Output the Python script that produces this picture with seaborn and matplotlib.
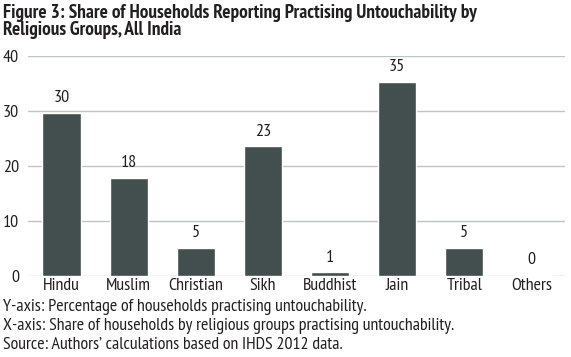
import matplotlib
matplotlib.use("Agg")
import matplotlib.pyplot as plt
import seaborn as sns
import pandas as pd

groups = ["Hindu", "Muslim", "Christian", "Sikh", "Buddhist", "Jain", "Tribal", "Others"]
shares = [29.6, 17.8, 5.1, 23.5, 0.6, 35.3, 5.0, 0.2]
bar_labels = ["30", "18", "5", "23", "1", "35", "5", "0"]
yticks = [0, 10, 20, 30, 40]

title_lines = [
    "Figure 3: Share of Households Reporting Practising Untouchability by",
    "Religious Groups, All India",
]
notes = [
    "Y-axis: Percentage of households practising untouchability.",
    "X-axis: Share of households by religious groups practising untouchability.",
    "Source: Authors\u2019 calculations based on IHDS 2012 data.",
]

sns.set_style("white")
plt.rcParams["font.family"] = ["PT Sans Narrow", "Archivo Narrow", "DejaVu Sans"]
ink = "#231f20"

df = pd.DataFrame({"group": groups, "share": shares})

W, H = 571, 357
fig = plt.figure(figsize=(W / 100, H / 100), dpi=100)
ax = fig.add_axes([28 / W, (H - 275.7) / H, 537 / W, 220 / H])
sns.barplot(data=df, x="group", y="share", color="#434e4e", saturation=1, width=0.57, ax=ax)

ax.set_ylim(0, 40)
ax.set_xlim(-0.5, 7.5)
ax.set_yticks(yticks)
ax.yaxis.grid(True, color="#bcc6c4", linewidth=1.0)
ax.set_axisbelow(True)
for s in ax.spines.values():
    s.set_visible(False)
ax.set_xlabel("")
ax.set_ylabel("")
ax.tick_params(axis="both", length=0, labelsize=13, colors=ink)
ax.tick_params(axis="y", pad=6.5)
ax.tick_params(axis="x", pad=2)

for p, lab in zip(ax.patches, bar_labels):
    ax.annotate(lab, (p.get_x() + p.get_width() / 2, p.get_height()),
                xytext=(0, 10.6), textcoords="offset points",
                ha="center", va="center", fontsize=13, color=ink)

for i, line in enumerate(title_lines):
    fig.text(3 / W, 1 - (18 + i * 17) / H, line, ha="left", va="baseline",
             fontsize=13.9, fontweight="bold", color=ink)
for i, n in enumerate(notes):
    fig.text(3 / W, 1 - (307 + i * 19) / H, n, ha="left", va="center", fontsize=12.9, color=ink)

fig.savefig("out.png", dpi=100)
